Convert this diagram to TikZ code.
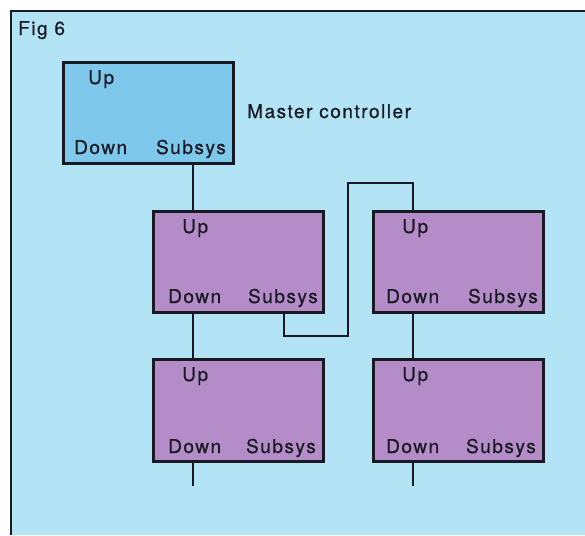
\documentclass[tikz,border=0pt]{standalone}
\usepackage{fontspec}
\setmainfont{TeX Gyre Heros}[LetterSpace=8,FakeBold=0.6]
\definecolor{bg}{RGB}{178,228,245}
\definecolor{mfill}{RGB}{125,200,235}
\definecolor{pfill}{RGB}{180,140,200}
\definecolor{ink}{RGB}{25,25,35}
\begin{document}
\begin{tikzpicture}[x=1pt,y=-1pt,
  mbox/.style={draw=ink, line width=3pt, rectangle, inner sep=0pt, anchor=north west, minimum width=170pt, minimum height=101pt},
  lbl/.style={anchor=base west, inner sep=0pt, text=ink, font=\fontsize{19}{21}\selectfont},
  lble/.style={lbl, anchor=base east},
  wire/.style={draw=ink, line width=1.6pt}]
\useasboundingbox (0,0) rectangle (585,535);
\fill[white] (0,0) rectangle (585,535);
\fill[bg] (11,11) rectangle (585,535);
\draw[ink, line width=2.5pt] (11,535) -- (11,11) -- (585,11);

\node[lbl] (fig) at (18,35) {Fig 6};
\node[lbl] (mc) at (247,118) {Master controller};

% boxes
\node[mbox, fill=mfill] (master) at (62,61) {};
\node[mbox, fill=pfill] (A) at (152,210) {};
\node[mbox, fill=pfill] (B) at (372,210) {};
\node[mbox, fill=pfill, minimum height=102pt] (C) at (152,358) {};
\node[mbox, fill=pfill, minimum height=102pt] (D) at (372,358) {};

% labels
\node[lbl] (mUp) at (88,84) {Up};
\node[lbl] (mDown) at (74,154) {Down};
\node[lble] (mSub) at (226,154) {Subsys};

\node[lbl] (aUp) at (182,233) {Up};
\node[lbl] (aDown) at (168,303) {Down};
\node[lble] (aSub) at (318,303) {Subsys};

\node[lbl] (bUp) at (402,233) {Up};
\node[lbl] (bDown) at (386,303) {Down};
\node[lble] (bSub) at (538,303) {Subsys};

\node[lbl] (cUp) at (182,381) {Up};
\node[lbl] (cDown) at (168,453) {Down};
\node[lble] (cSub) at (316,453) {Subsys};

\node[lbl] (dUp) at (402,381) {Up};
\node[lbl] (dDown) at (386,453) {Down};
\node[lble] (dSub) at (536,453) {Subsys};

% port columns
\coordinate (x1) at (193,0);
\coordinate (xs) at (284,0);
\coordinate (x2) at (413,0);
\coordinate (j1) at (348,336);
\coordinate (j2) at (348,183);
\coordinate (e1) at (193,486);
\coordinate (e2) at (413,486);

\draw[wire] (master.south -| x1) -- (A.north -| x1);
\draw[wire] (A.south -| x1) -- (C.north -| x1);
\draw[wire] (A.south -| xs) |- (j1) -- (j2) -| (B.north -| x2);
\draw[wire] (B.south -| x2) -- (D.north -| x2);
\draw[wire] (C.south -| x1) -- (e1);
\draw[wire] (D.south -| x2) -- (e2);
\end{tikzpicture}
\end{document}
